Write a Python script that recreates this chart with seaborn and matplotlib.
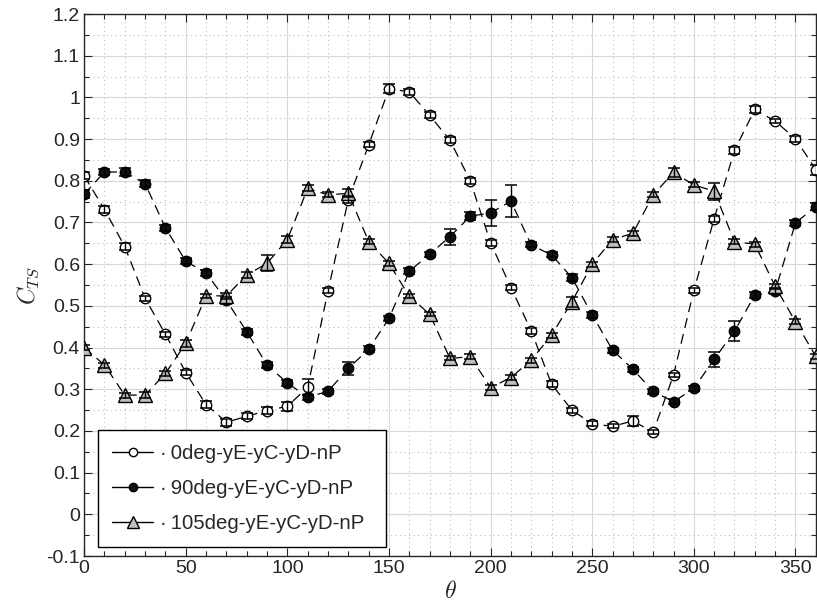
import numpy as np
import pandas as pd
import seaborn as sns
import matplotlib.pyplot as plt
from matplotlib.lines import Line2D
from matplotlib.ticker import MultipleLocator

theta = list(range(0, 361, 10))

ct_0 = [0.812, 0.731, 0.642, 0.518, 0.432, 0.340, 0.263, 0.221, 0.235, 0.249,
        0.259, 0.305, 0.536, 0.755, 0.886, 1.021, 1.013, 0.957, 0.897, 0.800,
        0.651, 0.544, 0.440, 0.312, 0.250, 0.217, 0.211, 0.224, 0.197, 0.334,
        0.537, 0.709, 0.873, 0.971, 0.943, 0.901, 0.827]
err_0 = [0.008, 0.008, 0.008, 0.006, 0.006, 0.007, 0.008, 0.008, 0.007, 0.008,
         0.010, 0.020, 0.006, 0.008, 0.006, 0.011, 0.007, 0.007, 0.007, 0.007,
         0.007, 0.006, 0.007, 0.007, 0.006, 0.006, 0.005, 0.012, 0.005, 0.005,
         0.006, 0.007, 0.008, 0.009, 0.005, 0.007, 0.012]

ct_90 = [0.768, 0.821, 0.821, 0.793, 0.687, 0.607, 0.579, 0.513, 0.438, 0.358,
         0.315, 0.281, 0.295, 0.350, 0.396, 0.470, 0.583, 0.624, 0.666, 0.715,
         0.723, 0.751, 0.646, 0.622, 0.568, 0.478, 0.394, 0.348, 0.295, 0.270,
         0.302, 0.372, 0.439, 0.526, 0.535, 0.699, 0.738]
err_90 = [0.010, 0.008, 0.009, 0.008, 0.007, 0.007, 0.008, 0.008, 0.007, 0.007,
          0.008, 0.006, 0.006, 0.015, 0.007, 0.006, 0.007, 0.006, 0.019, 0.009,
          0.032, 0.038, 0.006, 0.006, 0.008, 0.007, 0.006, 0.006, 0.006, 0.006,
          0.006, 0.018, 0.024, 0.007, 0.007, 0.007, 0.008]

ct_105 = [0.400, 0.358, 0.286, 0.286, 0.338, 0.410, 0.524, 0.524, 0.574, 0.602,
          0.659, 0.782, 0.766, 0.770, 0.654, 0.602, 0.523, 0.480, 0.374, 0.378,
          0.304, 0.328, 0.370, 0.430, 0.510, 0.600, 0.659, 0.674, 0.766, 0.820,
          0.790, 0.775, 0.654, 0.648, 0.547, 0.462, 0.379]
err_105 = [0.005, 0.006, 0.006, 0.007, 0.006, 0.009, 0.005, 0.008, 0.007, 0.019,
           0.008, 0.007, 0.006, 0.010, 0.006, 0.006, 0.005, 0.005, 0.005, 0.006,
           0.005, 0.006, 0.006, 0.006, 0.012, 0.006, 0.006, 0.006, 0.006, 0.010,
           0.006, 0.020, 0.006, 0.006, 0.006, 0.006, 0.006]

labels = ['0deg-yE-yC-yD-nP', '90deg-yE-yC-yD-nP', '105deg-yE-yC-yD-nP']

df = pd.concat([
    pd.DataFrame({'theta': theta, 'ct': ct_0, 'err': err_0, 'case': labels[0]}),
    pd.DataFrame({'theta': theta, 'ct': ct_90, 'err': err_90, 'case': labels[1]}),
    pd.DataFrame({'theta': theta, 'ct': ct_105, 'err': err_105, 'case': labels[2]}),
])

sns.set_style('ticks')
plt.rcParams['font.family'] = ['Liberation Sans', 'DejaVu Sans']
plt.rcParams['mathtext.fontset'] = 'cm'

fig, ax = plt.subplots(figsize=(8.17, 6.09), dpi=100)
fig.subplots_adjust(left=0.103, right=0.9985, top=0.977, bottom=0.087)

styles = {
    labels[0]: dict(marker='o', mfc='white', ms=7.5),
    labels[1]: dict(marker='o', mfc='#111111', ms=7.5),
    labels[2]: dict(marker='^', mfc='#bfbfbf', ms=9.5),
}

for case, sub in df.groupby('case', sort=False):
    st = styles[case]
    sns.lineplot(data=sub, x='theta', y='ct', ax=ax, color='black', lw=0.9,
                 linestyle=(0, (8, 5)), marker=st['marker'], markersize=st['ms'],
                 markerfacecolor=st['mfc'], markeredgecolor='black',
                 markeredgewidth=1.0, legend=False, zorder=3)
    ax.errorbar(sub['theta'], sub['ct'], yerr=sub['err'], fmt='none',
                ecolor='black', elinewidth=1.0, capsize=4.5, capthick=1.1,
                zorder=4)

ax.set_xlim(0, 360)
ax.set_ylim(-0.1, 1.2)
ax.xaxis.set_major_locator(MultipleLocator(50))
ax.xaxis.set_minor_locator(MultipleLocator(10))
ax.yaxis.set_major_locator(MultipleLocator(0.1))
ax.yaxis.set_minor_locator(MultipleLocator(0.05))
ax.set_yticks(np.round(np.arange(-0.1, 1.21, 0.1), 1))
ax.set_yticklabels(['-0.1', '0', '0.1', '0.2', '0.3', '0.4', '0.5', '0.6',
                    '0.7', '0.8', '0.9', '1', '1.1', '1.2'])

ax.grid(which='major', color='#d9d9d9', lw=0.8, ls='-')
ax.grid(which='minor', color='#bdbdbd', lw=0.8, ls=(0, (1, 3)))
ax.set_axisbelow(True)
ax.tick_params(which='both', direction='in', top=True, right=True,
               labelsize=14, colors='#262626')
ax.tick_params(which='major', length=6, width=0.8, pad=3)
ax.tick_params(which='minor', length=3.5, width=0.8)
for s in ax.spines.values():
    s.set_color('#262626')
    s.set_linewidth(1.0)

ax.set_xlabel(r'$\theta$', fontsize=17, labelpad=3)
ax.set_ylabel(r'$C_{TS}$', fontsize=17, labelpad=4)

handles = []
for case in labels:
    st = styles[case]
    handles.append(Line2D([], [], color='black', lw=1.0, marker=st['marker'],
                          markersize=st['ms'] - 1.5, markerfacecolor=st['mfc'],
                          markeredgecolor='black', markeredgewidth=1.0))
leg = ax.legend(handles, ['\u00b7\u2009' + l for l in labels], loc='lower left',
                bbox_to_anchor=(14 / 732, 9 / 542, 288 / 732, 0.2),
                mode='expand', fontsize=14.7, frameon=True,
                fancybox=False, framealpha=1, edgecolor='black',
                handlelength=2.0, handletextpad=0.35, labelspacing=0.78,
                borderpad=0.7, borderaxespad=0)
leg.get_frame().set_linewidth(1.0)

fig.savefig('out.png', dpi=100)
